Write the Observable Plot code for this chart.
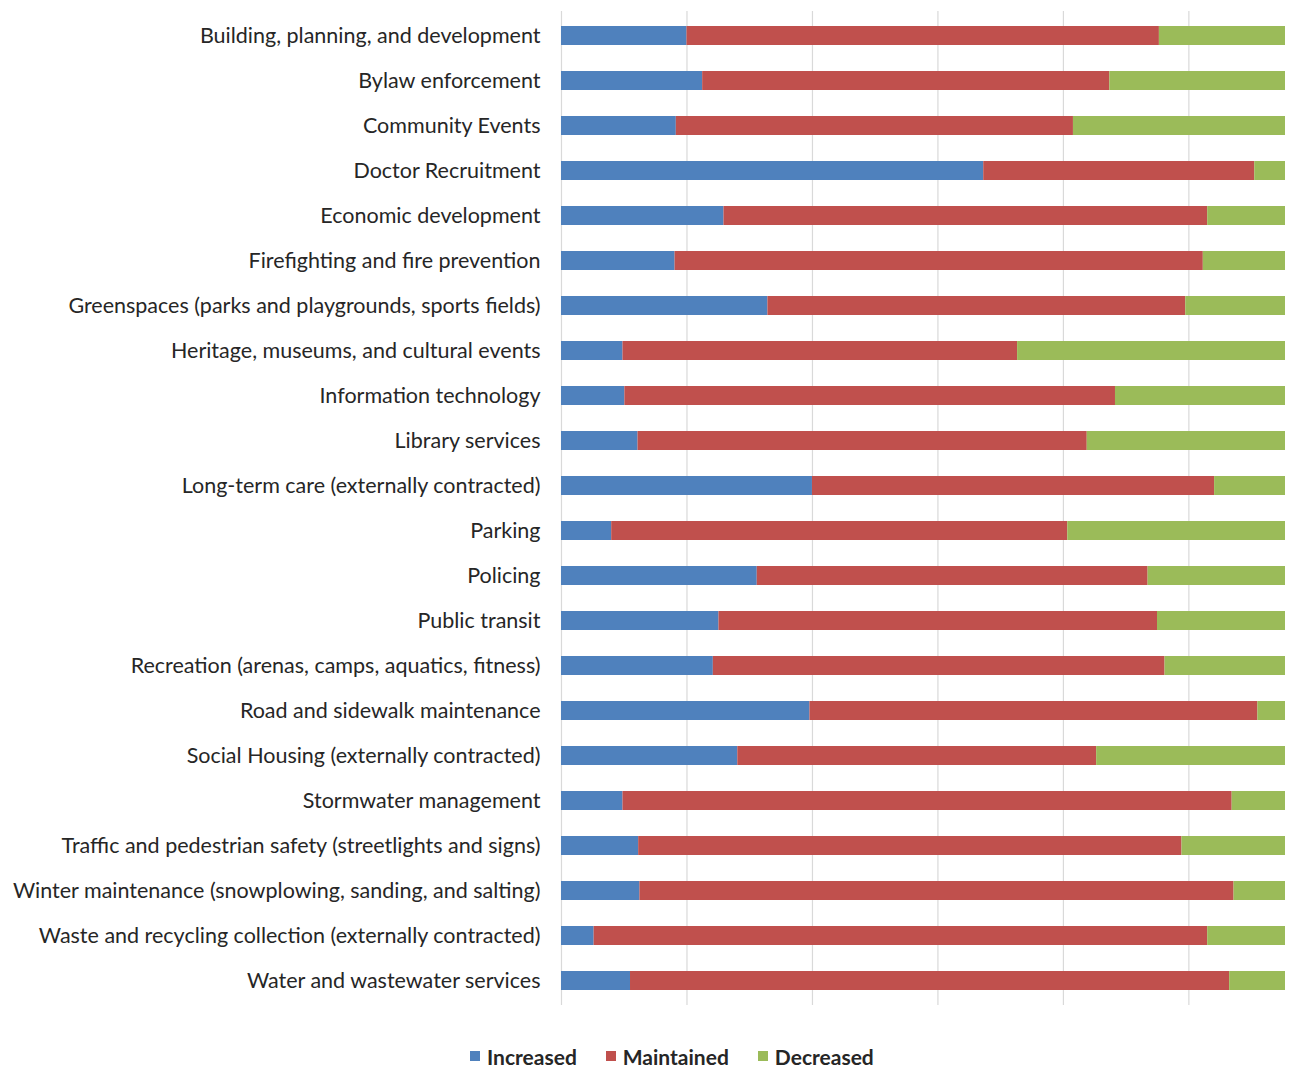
<!DOCTYPE html>
<html>
<head>
<meta charset="utf-8">
<script src="https://cdn.jsdelivr.net/npm/d3@7"></script>
<script src="https://cdn.jsdelivr.net/npm/@observablehq/plot@0.6"></script>
<style>
  html, body { margin: 0; padding: 0; background: #fff; }
  #chart svg { display: block; }
  .legend { display: flex; align-items: center; padding-left: 470px; margin-top: 28px; height: 26px; line-height: 1;
            font-family: Lato, "Open Sans", sans-serif; font-size: 21px; font-weight: 700; color: #262626; }
  .legend .item { display: flex; align-items: center; margin-right: 29px; }
  .legend .sw { width: 10px; height: 10px; margin-right: 7px; display: inline-block; }
</style>
</head>
<body>
<div id="chart"></div>
<script>
const categories = [
  "Building, planning, and development",
  "Bylaw enforcement",
  "Community Events",
  "Doctor Recruitment",
  "Economic development",
  "Firefighting and fire prevention",
  "Greenspaces (parks and playgrounds, sports fields)",
  "Heritage, museums, and cultural events",
  "Information technology",
  "Library services",
  "Long-term care (externally contracted)",
  "Parking",
  "Policing",
  "Public transit",
  "Recreation (arenas, camps, aquatics, fitness)",
  "Road and sidewalk maintenance",
  "Social Housing (externally contracted)",
  "Stormwater management",
  "Traffic and pedestrian safety (streetlights and signs)",
  "Winter maintenance (snowplowing, sanding, and salting)",
  "Waste and recycling collection (externally contracted)",
  "Water and wastewater services"
];
const seriesNames = ["Increased", "Maintained", "Decreased"];
const seriesColors = ["#4F81BD", "#C0504D", "#9BBB59"];
const increased  = [20.0, 22.5, 18.3, 67.3, 25.9, 18.1, 32.9,  9.8, 10.1, 12.2, 40.0,  8.0, 31.2, 25.1, 24.2, 39.6, 28.1,  9.8, 12.3, 12.5,  5.2, 11.0];
const maintained = [75.3, 64.9, 63.3, 43.2, 77.1, 84.2, 66.6, 62.9, 78.2, 71.6, 64.1, 72.7, 62.3, 69.9, 72.0, 71.4, 57.2, 97.1, 86.6, 94.7, 97.8, 95.5];
const decreased  = [20.1, 28.0, 33.8,  4.9, 12.4, 13.1, 15.9, 42.7, 27.1, 31.6, 11.3, 34.7, 21.9, 20.4, 19.2,  4.4, 30.1,  8.5, 16.5,  8.2, 12.4,  8.9];
const gridTicks = [0, 20, 40, 60, 80, 100];

const seriesValues = [increased, maintained, decreased];
const rows = [];
categories.forEach((c, i) => {
  seriesNames.forEach((s, j) => rows.push({category: c, series: s, value: seriesValues[j][i]}));
});
const total = d3.max(categories, (c, i) => increased[i] + maintained[i] + decreased[i]);

const plot = Plot.plot({
  width: 1310,
  height: 1015,
  marginLeft: 561,
  marginRight: 25,
  marginTop: 11,
  marginBottom: 10,
  style: {fontFamily: "Lato, 'Open Sans', sans-serif", fontSize: "21.5px", color: "#262626", background: "#fff"},
  x: {domain: [0, total], axis: null},
  y: {domain: categories, paddingInner: 0.58, paddingOuter: 0.29, label: null, tickSize: 0, tickPadding: 21},
  color: {domain: seriesNames, range: seriesColors},
  marks: [
    Plot.gridX(gridTicks, {stroke: "#d9d9d9", strokeOpacity: 1, strokeWidth: 1.2}),
    Plot.barX(rows, {x: "value", y: "category", fill: "series", order: seriesNames})
  ]
});
document.getElementById("chart").appendChild(plot);

const legend = d3.select("body").append("div").attr("class", "legend");
seriesNames.forEach((s, i) => {
  const item = legend.append("div").attr("class", "item");
  item.append("span").attr("class", "sw").style("background", seriesColors[i]);
  item.append("span").text(s);
});
</script>
</body>
</html>
